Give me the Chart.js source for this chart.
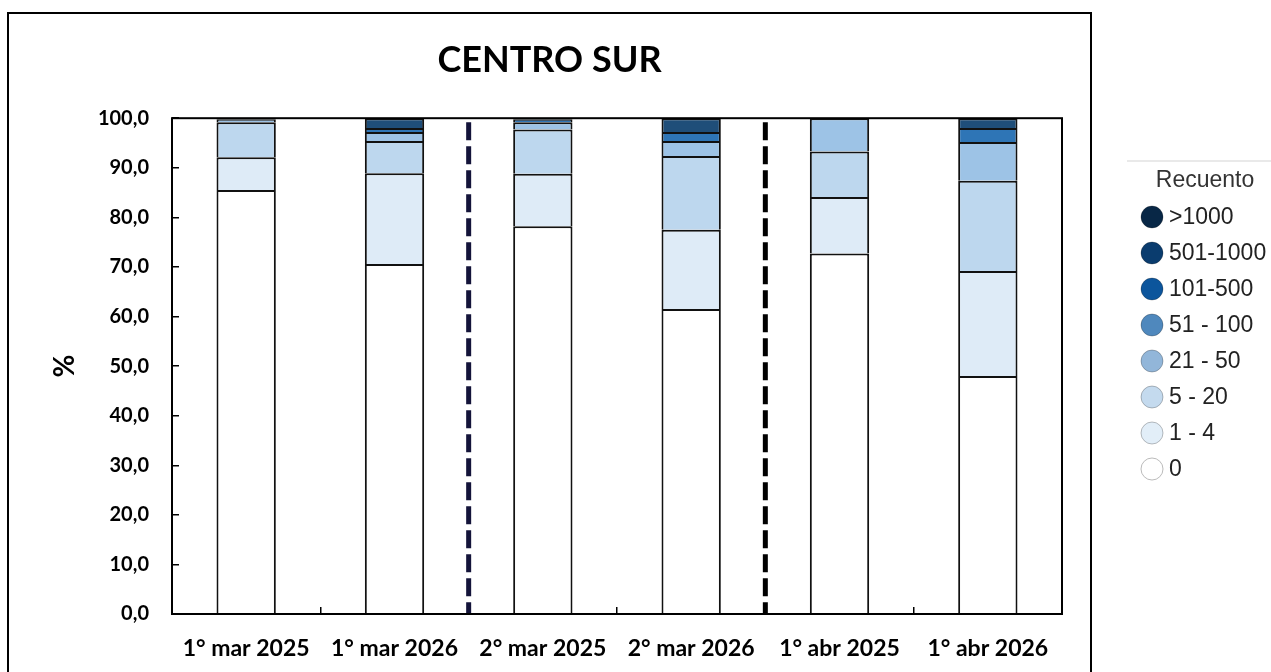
<!DOCTYPE html>
<html><head><meta charset="utf-8">
<script src="https://cdn.jsdelivr.net/npm/chart.js@4.4.1/dist/chart.umd.min.js"></script>
<style>html,body{margin:0;padding:0;background:#fff;}canvas{display:block;}</style>
</head><body>
<canvas id="c" width="1271" height="672"></canvas>
<script>
// ---- data ----
const categories = ['1° mar 2025', '1° mar 2026', '2° mar 2025', '2° mar 2026', '1° abr 2025', '1° abr 2026'];
const seriesLabels = ['0', '1 - 4', '5 - 20', '21 - 50', '51 - 100', '101-500', '501-1000', '>1000'];
const v0        = [85.5, 70.6, 78.2, 61.5, 72.7, 48.0];
const v1_4      = [6.6, 18.3, 10.6, 16.0, 11.4, 21.2];
const v5_20     = [7.1, 6.5, 8.9, 14.9, 9.2, 18.2];
const v21_50    = [0.6, 1.8, 1.5, 3.0, 6.7, 7.8];
const v51_100   = [0.2, 0, 0, 0, 0, 0];
const v101_500  = [0, 0.8, 0.6, 1.8, 0, 2.8];
const v501_1000 = [0, 2.0, 0.2, 2.8, 0, 2.0];
const v1000plus = [0, 0, 0, 0, 0, 0];
const seriesValues = [v0, v1_4, v5_20, v21_50, v51_100, v101_500, v501_1000, v1000plus];
const separatorPositions = [1.5, 3.5];   // between categories
const chartTitle = 'CENTRO SUR';
const yTitle = '%';
const legendTitle = 'Recuento';

// ---- styles ----
const barColors = ['#ffffff', '#deebf7', '#bdd7ee', '#9dc3e6', '#6fa8dc', '#2e75b6', '#1f4e79', '#0c2c4f'];
const legendColors = ['#ffffff', '#e2eef8', '#c4daee', '#92b6d9', '#4f88bd', '#0c559c', '#0a3c6e', '#082746'];
const separatorColors = ['#14143a', '#000000'];
const FONT = 'Lato, "Open Sans", "DejaVu Sans", sans-serif';

const datasets = seriesLabels.map((lab, i) => ({
  label: lab,
  data: seriesValues[i],
  backgroundColor: barColors[i],
  borderColor: '#111111',
  borderWidth: 2,
  borderSkipped: 'start',
  categoryPercentage: 0.4,
  barPercentage: 1.0
}));

const framePlugin = {
  id: 'frame',
  beforeDraw(chart) {
    const ctx = chart.ctx;
    ctx.save();
    ctx.fillStyle = '#fff';
    ctx.fillRect(0, 0, chart.width, chart.height);
    ctx.strokeStyle = '#000';
    ctx.lineWidth = 2;
    ctx.strokeRect(8, 13, 1083, 700);
    ctx.restore();
  },
  afterDatasetsDraw(chart) {
    const ctx = chart.ctx;
    const a = chart.chartArea;
    const xs = chart.scales.x;
    ctx.save();
    // separators
    separatorPositions.forEach((p, i) => {
      const x = xs.getPixelForValue(p);
      ctx.strokeStyle = separatorColors[i];
      ctx.lineWidth = 5;
      ctx.setLineDash([18, 6]);
      ctx.beginPath();
      ctx.moveTo(x, a.top + 4);
      ctx.lineTo(x, a.bottom);
      ctx.stroke();
    });
    ctx.setLineDash([]);
    // plot box
    ctx.strokeStyle = '#000';
    ctx.lineWidth = 2;
    ctx.strokeRect(a.left, a.top, a.right - a.left, a.bottom - a.top);
    ctx.restore();
  },
  afterDraw(chart) {
    const ctx = chart.ctx;
    ctx.save();
    ctx.strokeStyle = '#e2e2e2';
    ctx.lineWidth = 1.5;
    ctx.beginPath();
    ctx.moveTo(1127, 161);
    ctx.lineTo(1271, 161);
    ctx.stroke();
    ctx.fillStyle = '#333';
    ctx.font = '23px "Liberation Sans", Arial, sans-serif';
    ctx.textAlign = 'center';
    ctx.textBaseline = 'middle';
    ctx.fillText(legendTitle, 1205, 181);
    ctx.textAlign = 'left';
    const ds = chart.data.datasets;
    const n = ds.length;
    for (let k = 0; k < n; k++) {
      const idx = n - 1 - k;
      const y = 217 + k * 36;
      ctx.beginPath();
      ctx.arc(1152, y, 11, 0, Math.PI * 2);
      ctx.fillStyle = legendColors[idx];
      ctx.fill();
      ctx.lineWidth = 1;
      ctx.strokeStyle = idx === 0 ? '#bbbbbb' : 'rgba(0,0,0,0.25)';
      ctx.stroke();
      ctx.fillStyle = '#222222';
      ctx.fillText(ds[idx].label, 1169, y + 1);
    }
    ctx.restore();
  }
};

new Chart(document.getElementById('c'), {
  type: 'bar',
  data: { labels: categories, datasets },
  options: {
    responsive: false,
    animation: false,
    devicePixelRatio: 1,
    layout: { padding: { left: 37, right: 209, top: 20, bottom: 0 } },
    plugins: {
      legend: { display: false },
      tooltip: { enabled: false },
      title: {
        display: true,
        text: chartTitle,
        color: '#000',
        font: { family: FONT, size: 36, weight: 'bold' },
        padding: { top: 19, bottom: 36 }
      }
    },
    scales: {
      x: {
        stacked: true,
        border: { display: false },
        grid: { display: true, drawOnChartArea: false, drawTicks: true, tickLength: -7, color: '#000', lineWidth: 1.5, offset: true },
        ticks: { color: '#000', font: { family: FONT, size: 23, weight: 'bold' }, padding: 28, maxRotation: 0, autoSkip: false },
        afterFit(s) { s.height = 58; }
      },
      y: {
        stacked: true,
        min: 0, max: 100,
        border: { display: false },
        grid: { display: true, drawOnChartArea: false, drawTicks: true, tickLength: -7, color: '#000', lineWidth: 1.5 },
        ticks: { stepSize: 10, color: '#000', font: { family: FONT, size: 20, weight: 'bold' }, padding: 30,
                 callback: v => v.toFixed(1).replace('.', ',') },
        title: { display: true, text: yTitle, color: '#000', font: { family: FONT, size: 28, weight: 'bold' }, padding: { top: 11, bottom: 0 } },
        afterFit(s) { s.width = 135; }
      }
    }
  },
  plugins: [framePlugin]
});
</script>
</body></html>
